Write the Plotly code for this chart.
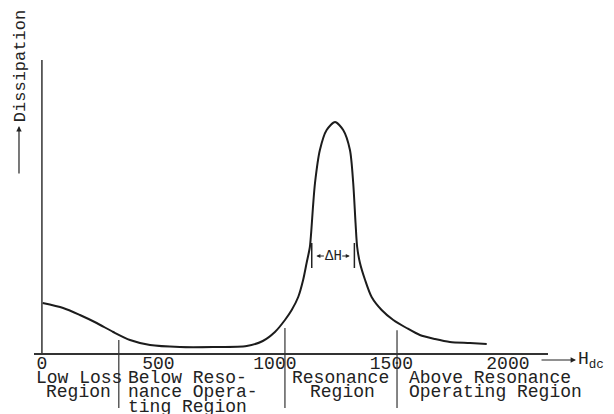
import plotly.graph_objects as go

# ---- data ----
H_field = [3, 91, 163, 235, 306, 378, 464, 592, 734, 879,
           948, 1000, 1043, 1072, 1100, 1121, 1136, 1150, 1157, 1163,
           1172, 1193, 1222, 1258, 1293, 1322, 1336, 1346, 1353, 1365,
           1387, 1415, 1458, 1508, 1565, 1622, 1687, 1751, 1837, 1909]
dissipation = [50, 45, 38, 30, 21, 13, 8, 6, 6, 7,
               12, 21, 33, 43, 56, 73, 90, 106, 125, 145,
               170, 203, 223, 231, 223, 203, 170, 130, 106, 90,
               73, 56, 43, 33, 25, 18, 14, 11, 10, 9]

tick_vals = [0, 500, 1000, 1500, 2000]
tick_text = ["0", "500", "1000", "1500", "2000"]

region_bounds = [330, 1043, 1524]          # divider positions (H)
delta_h_edges = [1158, 1341]               # ΔH width markers (H)
delta_h_level = 97                         # dissipation level of ΔH marks

# region labels: (lines, x position, anchor)
region_labels = [
    (["Low Loss", "Region"], [157, 155], "center"),
    (["Below Reso-", "nance Opera-", "ting Region"], [361, 361, 361], "left"),
    (["Resonance", "Region"], [1283, 1290], "center"),
    (["Above Resonance", "Operating Region"], [1567, 1567], "left"),
]

FONT = "Liberation Mono"
INK = "#222222"

fig = go.Figure()
fig.add_trace(go.Scatter(
    x=H_field, y=dissipation, mode="lines",
    line=dict(color="#1c1c1c", width=2, shape="spline", smoothing=0.75),
    hoverinfo="skip", showlegend=False,
))

shapes = []
# y axis line at H = 0
shapes.append(dict(type="line", xref="x", yref="y", x0=0, x1=0, y0=0, y1=293,
                   line=dict(color="#333333", width=1.5)))
# region dividers (cross the axis, go down through the labels)
div_tops = [0.044, 0.085, 0.078]
for xb, top in zip(region_bounds, div_tops):
    shapes.append(dict(type="line", xref="x", yref="paper", x0=xb, x1=xb,
                       y0=-0.188, y1=top,
                       line=dict(color="#333333", width=1.2)))
# ΔH bars
for xe in delta_h_edges:
    shapes.append(dict(type="line", xref="x", yref="y", x0=xe, x1=xe,
                       y0=delta_h_level - 12, y1=delta_h_level + 13,
                       line=dict(color="#222222", width=1.5)))

annotations = []
row_y = [-0.0853, -0.1348, -0.1843]
for lines, xs, anchor in region_labels:
    for i, (txt, xv) in enumerate(zip(lines, xs)):
        annotations.append(dict(text=txt, x=xv, y=row_y[i], xref="x", yref="paper",
                                xanchor=anchor, yanchor="middle", showarrow=False,
                                font=dict(family=FONT, size=18, color=INK)))

# ΔH label and its small arrows
annotations.append(dict(text="ΔH", x=(delta_h_edges[0] + delta_h_edges[1]) / 2,
                        y=delta_h_level, xref="x", yref="y", showarrow=False,
                        font=dict(family=FONT, size=14, color=INK)))
annotations.append(dict(text="", x=delta_h_edges[0] + 20, y=delta_h_level, xref="x", yref="y",
                        showarrow=True, ax=9, ay=0, arrowhead=2, arrowsize=0.8,
                        arrowwidth=1, arrowcolor=INK))
annotations.append(dict(text="", x=delta_h_edges[1] - 20, y=delta_h_level, xref="x", yref="y",
                        showarrow=True, ax=-9, ay=0, arrowhead=2, arrowsize=0.8,
                        arrowwidth=1, arrowcolor=INK))

# y label with arrow
annotations.append(dict(text="Dissipation", x=-0.0259, y=0.978, xref="paper", yref="paper",
                        textangle=-90, showarrow=False, xanchor="center", yanchor="middle",
                        font=dict(family=FONT, size=17, color=INK)))
annotations.append(dict(text="", x=-0.0292, y=0.7747, xref="paper", yref="paper",
                        showarrow=True, ax=0, ay=49, arrowhead=2, arrowsize=0.9,
                        arrowwidth=1.2, arrowcolor=INK))

# x label: arrow + H_dc
annotations.append(dict(text="", x=1.0545, y=-0.0239, xref="paper", yref="paper",
                        showarrow=True, ax=-36, ay=0, arrowhead=2, arrowsize=0.9,
                        arrowwidth=1.2, arrowcolor=INK))
annotations.append(dict(text="H<sub>dc</sub>", x=1.0545, y=-0.0239, xref="paper", yref="paper",
                        xanchor="left", yanchor="middle", showarrow=False,
                        font=dict(family=FONT, size=18, color=INK)))

fig.update_layout(
    width=606, height=406, autosize=False,
    margin=dict(l=26, r=66, t=52, b=61, pad=0),
    paper_bgcolor="white", plot_bgcolor="white",
    xaxis=dict(range=[-34, 2172], showgrid=False, zeroline=False,
               showline=True, linecolor="#333333", linewidth=1.5,
               tickmode="array", tickvals=tick_vals, ticktext=tick_text,
               ticks="", ticklabelstandoff=-7,
               tickfont=dict(family=FONT, size=18, color=INK),
               fixedrange=True),
    yaxis=dict(range=[0, 293], visible=False, showgrid=False, zeroline=False,
               fixedrange=True),
    shapes=shapes, annotations=annotations,
    showlegend=False,
)

fig.write_html("out.html")
